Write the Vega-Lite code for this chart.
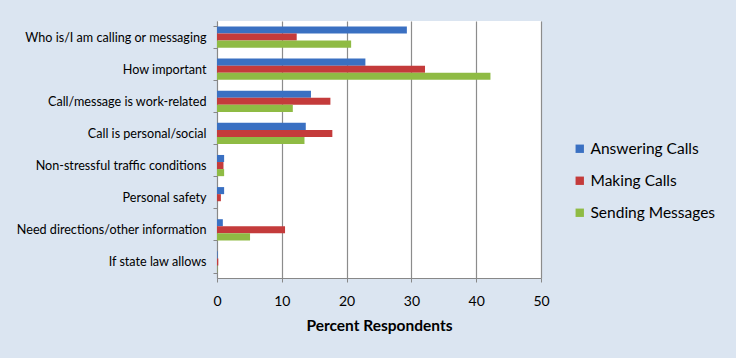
{
  "$schema": "https://vega.github.io/schema/vega-lite/v6.json",
  "width": 324,
  "height": 257,
  "autosize": {"type": "none"},
  "padding": {"left": 217, "top": 21, "right": 195, "bottom": 80},
  "background": "#dbe5f1",
  "config": {
    "font": "Lato",
    "view": {"fill": "white", "stroke": null}
  },
  "data": {
    "values": [
      {"reason": "Who is/I am calling or messaging", "series": "Answering Calls", "value": 29.3},
      {"reason": "Who is/I am calling or messaging", "series": "Making Calls", "value": 12.3},
      {"reason": "Who is/I am calling or messaging", "series": "Sending Messages", "value": 20.7},
      {"reason": "How important", "series": "Answering Calls", "value": 22.9},
      {"reason": "How important", "series": "Making Calls", "value": 32.1},
      {"reason": "How important", "series": "Sending Messages", "value": 42.2},
      {"reason": "Call/message is work-related", "series": "Answering Calls", "value": 14.5},
      {"reason": "Call/message is work-related", "series": "Making Calls", "value": 17.5},
      {"reason": "Call/message is work-related", "series": "Sending Messages", "value": 11.7},
      {"reason": "Call is personal/social", "series": "Answering Calls", "value": 13.7},
      {"reason": "Call is personal/social", "series": "Making Calls", "value": 17.8},
      {"reason": "Call is personal/social", "series": "Sending Messages", "value": 13.5},
      {"reason": "Non-stressful traffic conditions", "series": "Answering Calls", "value": 1.1},
      {"reason": "Non-stressful traffic conditions", "series": "Making Calls", "value": 1.0},
      {"reason": "Non-stressful traffic conditions", "series": "Sending Messages", "value": 1.1},
      {"reason": "Personal safety", "series": "Answering Calls", "value": 1.1},
      {"reason": "Personal safety", "series": "Making Calls", "value": 0.6},
      {"reason": "Personal safety", "series": "Sending Messages", "value": 0.0},
      {"reason": "Need directions/other information", "series": "Answering Calls", "value": 0.9},
      {"reason": "Need directions/other information", "series": "Making Calls", "value": 10.5},
      {"reason": "Need directions/other information", "series": "Sending Messages", "value": 5.1},
      {"reason": "If state law allows", "series": "Answering Calls", "value": 0.1},
      {"reason": "If state law allows", "series": "Making Calls", "value": 0.2},
      {"reason": "If state law allows", "series": "Sending Messages", "value": 0.05}
    ]
  },
  "mark": {"type": "bar", "stroke": null},
  "encoding": {
    "y": {
      "field": "reason",
      "type": "nominal",
      "sort": null,
      "scale": {"paddingInner": 0.34, "paddingOuter": 0.17},
      "axis": {
        "title": null,
        "labelFontSize": 12.6,
        "labelLimit": 260,
        "labelColor": "black",
        "labelPadding": 7,
        "tickBand": "extent",
        "tickSize": 4,
        "tickColor": "#888888",
        "domainColor": "#888888",
        "grid": false
      }
    },
    "yOffset": {
      "field": "series",
      "type": "nominal",
      "sort": ["Answering Calls", "Making Calls", "Sending Messages"],
      "scale": {"paddingInner": 0, "paddingOuter": 0}
    },
    "x": {
      "field": "value",
      "type": "quantitative",
      "scale": {"domain": [0, 50], "nice": false},
      "axis": {
        "title": "Percent Respondents",
        "titleFontSize": 15.5,
        "titleFontWeight": "bold",
        "titleColor": "black",
        "titlePadding": 10,
        "values": [0, 10, 20, 30, 40, 50],
        "labelFlush": false,
        "labelFontSize": 14,
        "labelColor": "black",
        "labelPadding": 12,
        "tickSize": 4,
        "tickColor": "#888888",
        "domainColor": "#888888",
        "grid": true,
        "gridColor": "#8c8c8c",
        "gridWidth": 1.2
      }
    },
    "color": {
      "field": "series",
      "type": "nominal",
      "scale": {
        "domain": ["Answering Calls", "Making Calls", "Sending Messages"],
        "range": ["#3a70c2", "#c43b3b", "#8fbb44"]
      },
      "legend": {
        "title": null,
        "orient": "none",
        "legendX": 355,
        "legendY": 120,
        "symbolType": "square",
        "symbolSize": 70,
        "symbolStrokeWidth": 0,
        "labelFontSize": 15.5,
        "labelColor": "black",
        "rowPadding": 15,
        "labelOffset": 3
      }
    }
  }
}
